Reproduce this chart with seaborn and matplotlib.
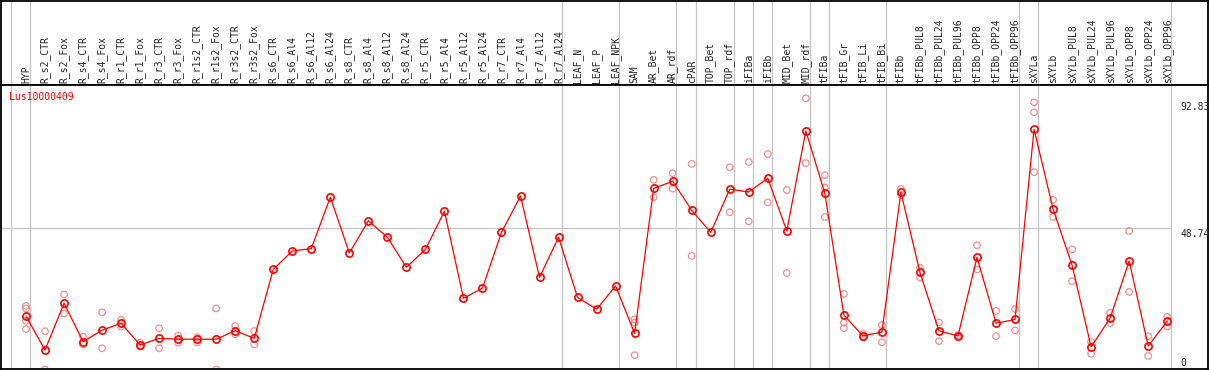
import pandas as pd
import seaborn as sns
import matplotlib.pyplot as plt

# Sample names (column headers)
samples = [
    "HYP", "R_s2_CTR", "R_s2_Fox", "R_s4_CTR", "R_s4_Fox", "R_r1_CTR", "R_r1_Fox",
    "R_r3_CTR", "R_r3_Fox", "R_r1s2_CTR", "R_r1s2_Fox", "R_r3s2_CTR", "R_r3s2_Fox",
    "R_s6_CTR", "R_s6_Al4", "R_s6_Al12", "R_s6_Al24", "R_s8_CTR", "R_s8_Al4",
    "R_s8_Al12", "R_s8_Al24", "R_r5_CTR", "R_r5_Al4", "R_r5_Al12", "R_r5_Al24",
    "R_r7_CTR", "R_r7_Al4", "R_r7_Al12", "R_r7_Al24", "LEAF_N", "LEAF_P", "LEAF_NPK",
    "SAM", "AR_Bet", "AR_rdf", "cPAR", "TOP_Bet", "TOP_rdf", "iFIBa", "iFIBb",
    "MID_Bet", "MID_rdf", "tFIBa", "tFIB_Gr", "tFIB_Li", "tFIB_Bi", "tFIBb",
    "tFIBb_PUL8", "tFIBb_PUL24", "tFIBb_PUL96", "tFIBb_OPP8", "tFIBb_OPP24", "tFIBb_OPP96",
    "sXYLa", "sXYLb", "sXYLb_PUL8", "sXYLb_PUL24", "sXYLb_PUL96", "sXYLb_OPP8",
    "sXYLb_OPP24", "sXYLb_OPP96",
]

# Mean expression per sample
means = [
    16.7, 4.3, 21.4, 7.4, 11.6, 14.1, 6.2, 8.6, 8.3, 8.3, 8.3, 11.4, 8.6,
    33.7, 40.4, 41.3, 60.0, 39.7, 51.4, 45.4, 34.5, 41.0, 54.9, 23.2, 26.9,
    47.2, 60.4, 30.8, 45.4, 23.5, 19.2, 27.7, 10.4, 63.2, 65.8, 55.2, 47.2,
    62.9, 61.9, 66.9, 47.7, 84.1, 61.4, 17.1, 9.5, 10.9, 61.8, 32.6, 11.3,
    9.5, 38.1, 14.1, 15.5, 84.7, 55.7, 35.2, 5.5, 16.0, 36.8, 5.8, 14.9,
]

# Individual replicate values per sample
replicates = [
    [20.4, 19.5, 15.0, 12.0], [11.2, -2.7], [24.6, 17.7], [9.2, 6.4], [18.1, 5.0],
    [15.3, 12.9], [7.0, 5.6], [12.3, 5.0], [9.6, 7.0], [9.0, 7.1], [19.5, -2.7],
    [13.1, 10.1], [11.3, 6.4],
    [], [], [], [], [], [], [], [], [], [], [], [], [], [], [], [], [], [], [],
    [15.5, 14.3, 2.5], [66.3, 60.0], [68.7, 63.1], [72.1, 38.6], [],
    [70.9, 54.5], [72.8, 51.2], [75.7, 58.1], [62.6, 32.4], [96.0, 72.4],
    [68.0, 63.5, 52.8], [24.8, 14.3, 12.3], [10.2, 9.0], [13.5, 7.2], [63.0, 60.8],
    [34.3, 30.8], [14.4, 7.6], [9.8, 9.0], [42.5, 33.7], [18.6, 9.4], [19.3, 11.5],
    [94.5, 90.9, 69.1], [59.0, 52.8], [41.0, 29.4], [7.3, 3.0], [17.9, 14.1],
    [47.7, 25.5], [9.4, 2.2], [16.5, 12.9],
]

# group separators (after these sample indices)
group_ends = [-1, 0, 28, 31, 34, 35, 37, 38, 39, 41, 42, 45, 52, 53, 60]

gene = "Lus10000409"
ytick_vals = [92.83, 48.74, 0]

df = pd.DataFrame({"idx": range(len(samples)), "sample": samples, "mean": means})
reps = pd.DataFrame(
    [(i, v) for i, vals in enumerate(replicates) for v in vals], columns=["idx", "value"]
)

sns.set_style("white")
plt.rcParams["font.family"] = ["DejaVu Sans Mono"]

W, H = 1209, 370
fig = plt.figure(figsize=(W / 100, H / 100), dpi=100)

# pixel helpers for layout
x0_px, x1_px = 1, 1208
head_bot_px = 85
plot_bot_px = 369
step = 19.02
xmin = (x0_px - 26) / step
xmax = (x1_px - 26) / step

ax_head = fig.add_axes([x0_px / W, (H - head_bot_px) / H, (x1_px - x0_px) / W, (head_bot_px - 0.5) / H])
ax = fig.add_axes([x0_px / W, (H - plot_bot_px) / H, (x1_px - x0_px) / W, (plot_bot_px - head_bot_px) / H])

grid_c = "#C4C4C4"
for a in (ax_head, ax):
    a.set_xlim(xmin, xmax)
    for g in group_ends:
        a.axvline(g + 0.2, color=grid_c, lw=0.9, zorder=0)
    a.set_xticks([])
    a.set_yticks([])
    for s in a.spines.values():
        s.set_color("black")
        s.set_linewidth(1.3)

# header with rotated sample names
ax_head.set_ylim(0, 1)
for i, name in enumerate(samples):
    ax_head.text(i, 2 / 85, name, rotation=90, ha="center", va="bottom", fontsize=7)

# main plot
ax.set_ylim((362 - plot_bot_px) / 2.747, (362 - head_bot_px) / 2.747)
ax.hlines(48.74, xmin, 60.2, color=grid_c, lw=0.9, zorder=0)

sns.scatterplot(data=reps, x="idx", y="value", ax=ax, marker="o", s=22,
                facecolor="none", edgecolor="#EE9090", linewidth=0.9, zorder=2)
sns.lineplot(data=df, x="idx", y="mean", ax=ax, color="red", lw=0.9,
             marker="o", markersize=5.2, markerfacecolor="none",
             markeredgecolor="red", markeredgewidth=1.2, zorder=3)
ax.set_xlabel("")
ax.set_ylabel("")

ax.text(-0.87, 96.5, gene, color="red", fontsize=7, ha="left", va="center")

# right-side value labels
ax.text(60.7, ytick_vals[0], "92.83", fontsize=7, ha="left", va="center")
ax.text(60.7, ytick_vals[1] - 2.1, "48.74", fontsize=7, ha="left", va="center")
ax.text(60.7, ytick_vals[2] - 0.4, "0", fontsize=7, ha="left", va="center")

fig.savefig("out.png", dpi=100)
